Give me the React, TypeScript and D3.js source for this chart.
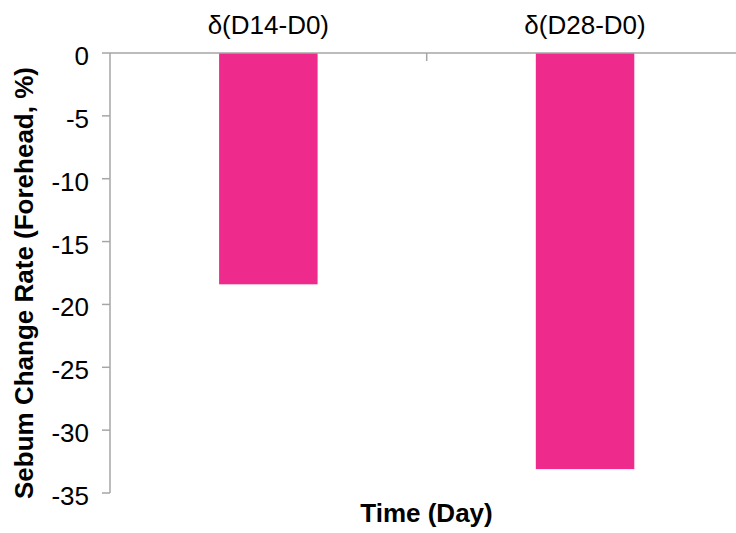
import React from "react";
import * as d3 from "d3";

const categories = ["δ(D14-D0)", "δ(D28-D0)"];
const values = [-18.4, -33.1];
const yTicks = [0, -5, -10, -15, -20, -25, -30, -35];

const W = 736;
const H = 533;
const FONT = "'Liberation Sans', Arial, Helvetica, sans-serif";

export default function App() {
  const left = 110;
  const right = 743.4;
  const top = 53;
  const bottom = 493;

  const x = d3.scaleBand<string>().domain(categories).range([left, right]).paddingInner(0.689).paddingOuter(0.3445);
  const y = d3.scaleLinear().domain([-35, 0]).range([bottom, top]);
  const step = x.step();
  const boundaries = categories.slice(1).map((c) => (x(c) as number) - (step * x.paddingInner()) / 2);

  const axisColor = "#A6A6A6";

  return (
    <svg width={W} height={H} style={{ position: "absolute", left: 0, top: 0, background: "#fff" }}>
      {/* bars */}
      {categories.map((c, i) => (
        <rect
          key={c}
          x={x(c)}
          y={y(0)}
          width={x.bandwidth()}
          height={y(values[i]) - y(0)}
          fill="#EE2A8C"
        />
      ))}
      {/* y axis */}
      <line x1={left} x2={left} y1={y(0)} y2={y(-35)} stroke={axisColor} strokeWidth={1.5} />
      {yTicks.map((t) => (
        <g key={t}>
          <line x1={left - 8} x2={left} y1={y(t)} y2={y(t)} stroke={axisColor} strokeWidth={1.5} />
          <text x={89} y={y(t) + 12} textAnchor="end" fontFamily={FONT} fontSize={26} fill="#000">
            {t}
          </text>
        </g>
      ))}
      {/* x axis at zero */}
      <line x1={left} x2={right} y1={y(0)} y2={y(0)} stroke={axisColor} strokeWidth={1.5} />
      {boundaries.map((b, i) => (
        <line key={i} x1={b} x2={b} y1={y(0)} y2={y(0) + 8} stroke={axisColor} strokeWidth={1.5} />
      ))}
      {/* category labels */}
      {categories.map((c) => (
        <text
          key={c}
          x={(x(c) as number) + x.bandwidth() / 2}
          y={34}
          textAnchor="middle"
          fontFamily={FONT}
          fontSize={26}
          fill="#000"
        >
          {c}
        </text>
      ))}
      {/* x title */}
      <text x={426.5} y={522} textAnchor="middle" fontFamily={FONT} fontSize={26} fontWeight="bold" fill="#000">
        Time (Day)
      </text>
      {/* y title */}
      <text
        transform={`translate(33,283) rotate(-90)`}
        textAnchor="middle"
        fontFamily={FONT}
        fontSize={26}
        fontWeight="bold"
        fill="#000"
      >
        Sebum Change Rate (Forehead, %)
      </text>
    </svg>
  );
}
